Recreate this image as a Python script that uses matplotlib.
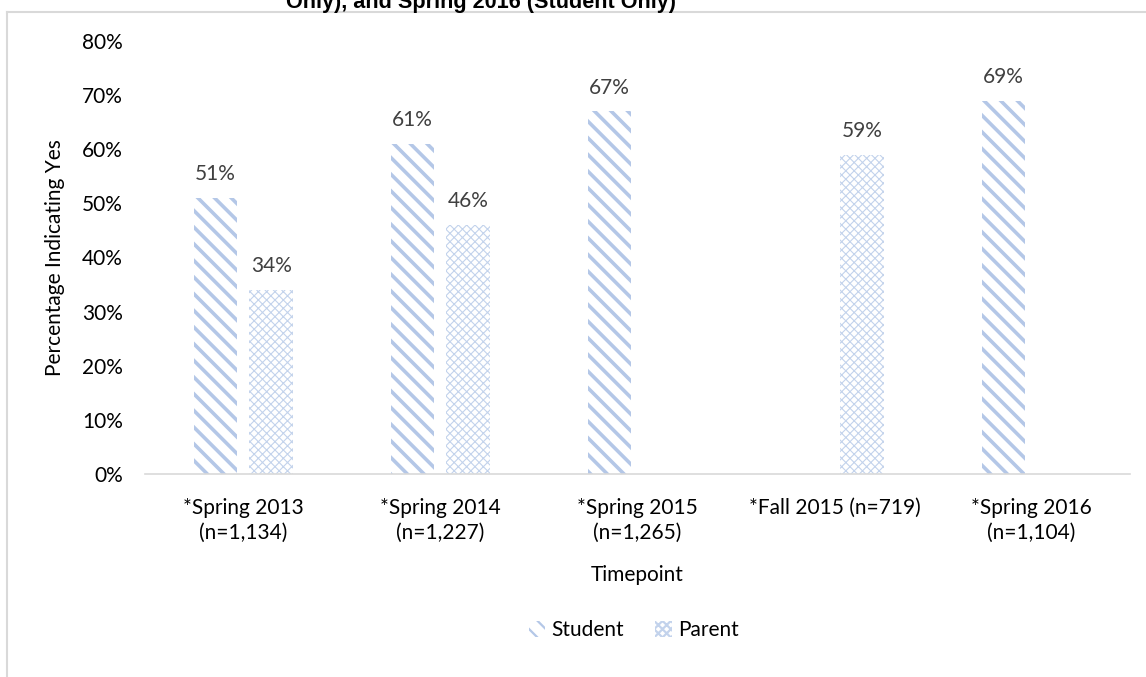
import numpy as np
import matplotlib.pyplot as plt
from matplotlib.lines import Line2D
from matplotlib.patches import Patch

# Chart data
categories = ["*Spring 2013\n(n=1,134)", "*Spring 2014\n(n=1,227)", "*Spring 2015\n(n=1,265)",
              "*Fall 2015 (n=719)", "*Spring 2016\n(n=1,104)"]
student = [0.51, 0.61, 0.67, np.nan, 0.69]
parent = [0.34, 0.46, np.nan, 0.59, np.nan]
yticks = [0, 0.1, 0.2, 0.3, 0.4, 0.5, 0.6, 0.7, 0.8]

plt.rcParams["font.family"] = ["Lato", "DejaVu Sans"]

fig = plt.figure(figsize=(11.46, 6.77), dpi=100)
ax = fig.add_axes([0.1265, 0.2999, 0.8595, 0.6395])

x = np.arange(len(categories))
w = 0.223
off = 0.142
s_col = "#B4C7E7"
p_col = "#C3D3EC"
s_hatch = "\\\\"
p_hatch = "xxxx"


def style(patch, lw):
    if hasattr(patch, "set_hatch_linewidth"):
        patch.set_hatch_linewidth(lw)


sb = ax.bar(x - off, student, w, color="white", edgecolor=s_col, linewidth=0, hatch=s_hatch)
pb = ax.bar(x + off, parent, w, color="white", edgecolor=p_col, linewidth=0, hatch=p_hatch)
for b in sb:
    style(b, 2.6)
for b in pb:
    style(b, 0.8)

# data labels
for bars, vals in ((sb, student), (pb, parent)):
    for b, v in zip(bars, vals):
        if np.isnan(v):
            continue
        ax.annotate(f"{v:.0%}", (b.get_x() + b.get_width() / 2, v), xytext=(0, 17),
                    textcoords="offset points", ha="center", va="center",
                    fontsize=15, color="#404040")

ax.set_xlim(-0.5, len(categories) - 0.5)
ax.set_ylim(0, 0.8)
ax.set_yticks(yticks)
ax.set_yticklabels([f"{t:.0%}" for t in yticks])
ax.set_xticks(x)
ax.set_xticklabels(categories)
for lbl in ax.get_xticklabels():
    lbl.set_linespacing(1.35)
ax.tick_params(axis="both", length=0, labelsize=15, colors="black")
ax.tick_params(axis="y", pad=16)
ax.tick_params(axis="x", pad=17)
for s in ("top", "right", "left"):
    ax.spines[s].set_visible(False)
ax.spines["bottom"].set_color("#D9D9D9")
ax.spines["bottom"].set_linewidth(1.2)

ax.set_ylabel("Percentage Indicating Yes", fontsize=15, labelpad=12)
ax.set_xlabel("Timepoint", fontsize=15, labelpad=16)

h1 = Patch(facecolor="white", edgecolor=s_col, linewidth=0, hatch=s_hatch)
h2 = Patch(facecolor="white", edgecolor=p_col, linewidth=0, hatch=p_hatch)
leg = fig.legend([h1, h2], ["Student", "Parent"], loc="center",
                 bbox_to_anchor=(0.553, 1 - 630 / 677), ncol=2, frameon=False, fontsize=15,
                 handlelength=0.8, handleheight=0.8, handletextpad=0.3, columnspacing=1.5)
for p in leg.get_patches():
    style(p, 1.6)

# cropped title and chart border
fig.text(0.42, 1 - 8 / 677, "Only), and Spring 2016 (Student Only)", ha="center",
         va="baseline", fontsize=15.6, fontweight="bold", family="Liberation Sans")
fig.add_artist(Line2D([7 / 1146, 1], [1 - 12 / 677, 1 - 12 / 677], color="#D9D9D9",
                      lw=1.5, transform=fig.transFigure))
fig.add_artist(Line2D([7 / 1146, 7 / 1146], [0, 1 - 12 / 677], color="#D9D9D9",
                      lw=1.5, transform=fig.transFigure))

fig.savefig("out.png", dpi=100)
